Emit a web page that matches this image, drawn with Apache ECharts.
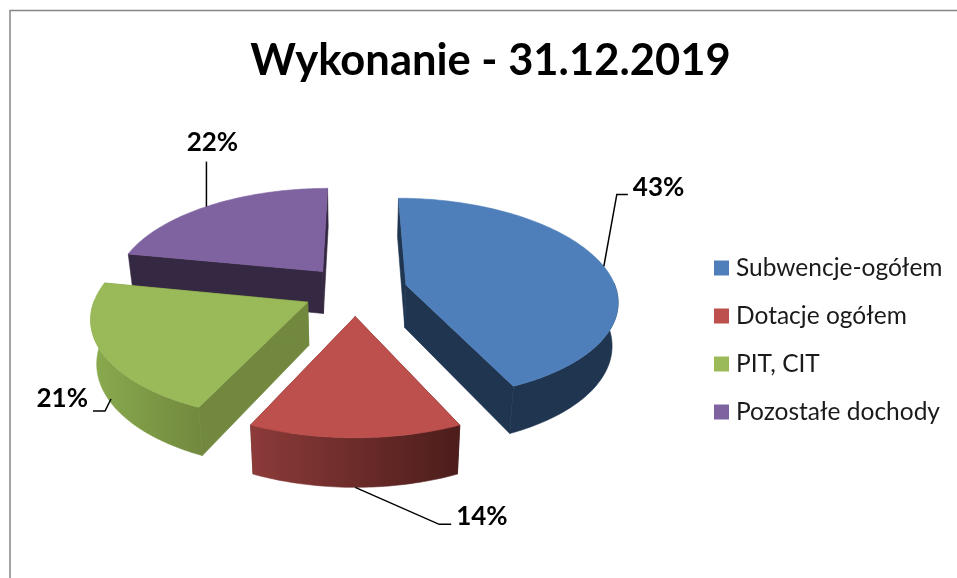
<!DOCTYPE html>
<html>
<head>
<meta charset="utf-8">
<title>Wykonanie - 31.12.2019</title>
<script src="https://cdn.jsdelivr.net/npm/echarts@6/dist/echarts.min.js"></script>
<style>
  html, body { margin: 0; padding: 0; background: #fff; }
  #chart { width: 957px; height: 578px; }
</style>
</head>
<body>
<div id="chart"></div>
<script>
var categories = ["Subwencje-ogółem", "Dotacje ogółem", "PIT, CIT", "Pozostałe dochody"];
var shares = [43, 14, 21, 22];

var topColors = ["#4f7fbb", "#bd4f4c", "#9aba59", "#7f63a1"];
var radialWallColors = ["#1f3550", "#5a2220", "#71883e", "#352842"];
var outerWallColors = [["#1f3550", "#1f3550"], ["#8c3b39", "#4c1d1b"], ["#8aab4e", "#71883e"], ["#352842", "#352842"]];
// painter's order, back to front
var drawOrder = [3, 0, 2, 1];
// leader line: where it leaves the slice (angle in degrees, wall depth 0..1), then offsets from there
var leaderAnchors = [[349, 0], [90, 1], [150, 0.9], [228.7, 0]];
var leaderBends = [[[13, -72], [24, -72]], [[84, 37], [96, 37]], [[-6, 12], [-18, 12]], [[0, -45]]];
var labelAnchors = [[29, -79, "left"], [101, 29, "left"], [-23, 0, "right"], [6, -64, "center"]];

var startAngle = 270;
var cx = 355.2, cy = 290.5, rx = 210.5, ry = 101.4;
var explode = 0.249, persp = 0.13;

function project(wx, wy, depth) {
  var s = 1 + persp * wy;
  var x = cx + rx * wx * (1 + 0.145 * wy);
  var y = cy + ry * wy * s;
  return [
    cx + (x - cx) * (1 - 0.023 * depth),
    y + depth * (42 + (y - 272) * 0.046)
  ];
}

function sliceRange(idx) {
  var total = shares.reduce(function (a, b) { return a + b; }, 0);
  var before = shares.slice(0, idx).reduce(function (a, b) { return a + b; }, 0);
  return [startAngle + before / total * 360, startAngle + (before + shares[idx]) / total * 360];
}

function renderSlice(params, api) {
  var idx = api.value(0);
  var range = sliceRange(idx);
  var mid = (range[0] + range[1]) / 2 * Math.PI / 180;
  var ex = explode * Math.cos(mid), ey = explode * Math.sin(mid);

  function rim(deg, depth) {
    var a = deg * Math.PI / 180;
    return project(ex + Math.cos(a), ey + Math.sin(a), depth);
  }
  function apex(depth) {
    return project(ex, ey, depth);
  }
  function poly(points, fill) {
    return {
      type: "polygon",
      shape: { points: points },
      style: { fill: fill, stroke: fill, lineWidth: 0.6 }
    };
  }

  // sampled angles along the arc, always ending exactly on the slice edge
  var angles = [];
  for (var t = range[0]; t < range[1]; t += 1) {
    angles.push(t);
  }
  angles.push(range[1]);

  var children = [];
  // the two flat cut faces
  children.push(poly([apex(0), rim(range[0], 0), rim(range[0], 1), apex(1)], radialWallColors[idx]));
  children.push(poly([apex(0), rim(range[1], 0), rim(range[1], 1), apex(1)], radialWallColors[idx]));

  // curved outer wall, only the part that faces the viewer
  var upper = [], lower = [];
  angles.forEach(function (d) {
    if (Math.sin(d * Math.PI / 180) > -0.03) {
      upper.push(rim(d, 0));
      lower.unshift(rim(d, 1));
    }
  });
  if (upper.length > 1) {
    children.push(poly(upper.concat(lower), new echarts.graphic.LinearGradient(0, 0, 1, 0, [
      { offset: 0, color: outerWallColors[idx][0] },
      { offset: 1, color: outerWallColors[idx][1] }
    ])));
  }

  // top face
  children.push(poly([apex(0)].concat(angles.map(function (d) {
    return rim(d, 0);
  })), topColors[idx]));

  // leader line and percent label
  var anchor = rim(leaderAnchors[idx][0], leaderAnchors[idx][1]);
  var line = [anchor].concat(leaderBends[idx].map(function (b) {
    return [anchor[0] + b[0], anchor[1] + b[1]];
  }));
  children.push({
    type: "polyline",
    shape: { points: line },
    style: { fill: null, stroke: "#000", lineWidth: 1.5 }
  });
  children.push({
    type: "text",
    style: {
      x: anchor[0] + labelAnchors[idx][0],
      y: anchor[1] + labelAnchors[idx][1],
      text: shares[idx] + "%",
      fill: "#000",
      font: "bold 26px Lato",
      align: labelAnchors[idx][2],
      verticalAlign: "middle"
    }
  });
  return { type: "group", children: children };
}

var chart = echarts.init(document.getElementById("chart"));
chart.setOption({
  animation: false,
  backgroundColor: "#fff",
  title: {
    text: "Wykonanie - 31.12.2019",
    left: 485.5,
    top: 34,
    textAlign: "center",
    textStyle: { color: "#000", fontFamily: "Lato", fontWeight: "bold", fontSize: 43.5 }
  },
  legend: {
    orient: "vertical",
    left: 709,
    top: 249,
    icon: "rect",
    itemWidth: 15,
    itemHeight: 15,
    itemGap: 20,
    selectedMode: false,
    data: categories,
    textStyle: { color: "#1a1a1a", fontFamily: "Lato", fontSize: 24.5, lineHeight: 28, padding: [0, 0, 0, 2] }
  },
  graphic: [{
    type: "polyline",
    shape: { points: [[10, 578], [10, 10.5], [957, 10.5]] },
    style: { fill: null, stroke: "#868686", lineWidth: 1.5 },
    silent: true
  }],
  series: categories.map(function (name, i) {
    return {
      type: "custom",
      name: name,
      coordinateSystem: "none",
      z: 2 + drawOrder.indexOf(i),
      itemStyle: { color: topColors[i] },
      renderItem: renderSlice,
      data: [[i, shares[i]]],
      silent: true
    };
  })
});
window.addEventListener("resize", function () {
  chart.resize();
});
</script>
</body>
</html>
